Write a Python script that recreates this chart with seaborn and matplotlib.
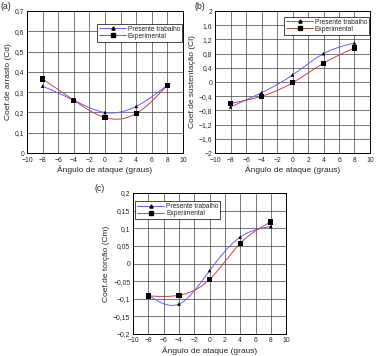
import numpy as np
import pandas as pd
import matplotlib
matplotlib.use("Agg")
import matplotlib.pyplot as plt
import seaborn as sns
from matplotlib.lines import Line2D
from matplotlib.ticker import FuncFormatter, MultipleLocator

# --- DATA ---
alpha = [-8, -4, 0, 4, 8]
cd_presente = [0.33, 0.26, 0.20, 0.23, 0.335]
cd_exp = [0.365, 0.26, 0.175, 0.195, 0.335]
cl_presente = [-0.70, -0.30, 0.20, 0.80, 1.10]
cl_exp = [-0.60, -0.40, -0.02, 0.53, 0.96]
cm_presente = [-0.090, -0.115, -0.020, 0.075, 0.105]
cm_exp = [-0.092, -0.090, -0.045, 0.057, 0.118]

xlabel = "Ângulo de ataque (graus)"
labels = ["Presente trabalho", "Experimental"]
c_pres = "#6a5cf0"
c_exp = "#b8484a"

sns.set_style("white")
plt.rcParams["font.family"] = ["Liberation Sans", "DejaVu Sans"]


def natural_spline(x, y, n=200):
    # smooth line through the measured points (drawing only)
    x = np.asarray(x, float)
    y = np.asarray(y, float)
    k = len(x)
    h = np.diff(x)
    A = np.zeros((k, k))
    r = np.zeros(k)
    A[0, 0] = A[-1, -1] = 1
    for i in range(1, k - 1):
        A[i, i - 1] = h[i - 1]
        A[i, i] = 2 * (h[i - 1] + h[i])
        A[i, i + 1] = h[i]
        r[i] = 6 * ((y[i + 1] - y[i]) / h[i] - (y[i] - y[i - 1]) / h[i - 1])
    M = np.linalg.solve(A, r)
    xs = np.linspace(x[0], x[-1], n)
    idx = np.clip(np.searchsorted(x, xs) - 1, 0, k - 2)
    x0, x1 = x[idx], x[idx + 1]
    hh = x1 - x0
    ys = (M[idx] * (x1 - xs) ** 3 / (6 * hh) + M[idx + 1] * (xs - x0) ** 3 / (6 * hh)
          + (y[idx] / hh - M[idx] * hh / 6) * (x1 - xs)
          + (y[idx + 1] / hh - M[idx + 1] * hh / 6) * (xs - x0))
    return xs, ys


def comma(v, pos):
    s = f"{v:.2f}".rstrip("0").rstrip(".")
    if s in ("-0", ""):
        s = "0"
    return s.replace(".", ",").replace("-", "\u2212")


def panel(ax, pres, exp, ylim, ystep, ylabel, tag, tag_x, legend_loc, anchor):
    xs, ys = natural_spline(alpha, pres)
    sns.lineplot(x=xs, y=ys, ax=ax, color=c_pres, lw=0.7)
    xs, ys = natural_spline(alpha, exp)
    sns.lineplot(x=xs, y=ys, ax=ax, color=c_exp, lw=0.7)
    sns.scatterplot(x=alpha, y=pres, ax=ax, marker="^", s=7, color="black",
                    edgecolor="none", zorder=5)
    sns.scatterplot(x=alpha, y=exp, ax=ax, marker="s", s=14, color="black",
                    edgecolor="none", zorder=5)
    ax.set_xlim(-10, 10)
    ax.set_ylim(*ylim)
    ax.xaxis.set_major_locator(MultipleLocator(2))
    ax.yaxis.set_major_locator(MultipleLocator(ystep))
    ax.xaxis.set_major_formatter(FuncFormatter(comma))
    ax.yaxis.set_major_formatter(FuncFormatter(comma))
    ax.grid(True, color="0.25", lw=0.5)
    ax.tick_params(labelsize=4.9, length=0)
    ax.tick_params(axis="x", pad=2.5)
    ax.tick_params(axis="y", pad=2.0)
    for s in ax.spines.values():
        s.set_color("black")
        s.set_linewidth(0.7)
    ax.set_xlabel(xlabel, fontsize=6, labelpad=1.5)
    ax.set_ylabel(ylabel, fontsize=6, labelpad=2)
    ax.text(tag_x, 1.03, tag, transform=ax.transAxes, ha="left", va="center",
            fontsize=6.3)
    handles = [
        Line2D([], [], color=c_pres, lw=0.7, marker="^", ms=2.3,
               mfc="black", mec="black"),
        Line2D([], [], color=c_exp, lw=0.7, marker="s", ms=2.8,
               mfc="black", mec="black"),
    ]
    leg = ax.legend(handles, labels, loc=legend_loc, fontsize=4.8,
                    frameon=True, fancybox=False, borderpad=0.3,
                    handlelength=4.0, handletextpad=0.3, labelspacing=0.0,
                    borderaxespad=0.0, bbox_to_anchor=anchor)
    leg.get_frame().set_edgecolor("black")
    leg.get_frame().set_linewidth(0.5)
    leg.get_frame().set_alpha(1)


fig = plt.figure(figsize=(3.76, 3.56), dpi=100)
ax_a = fig.add_axes([0.0718, 0.570, 0.415, 0.399])
ax_b = fig.add_axes([0.572, 0.570, 0.412, 0.399])
ax_c = fig.add_axes([0.354, 0.0618, 0.407, 0.396])

panel(ax_a, cd_presente, cd_exp, (0, 0.7), 0.1, "Coef.de arrasto (Cd)",
      "(a)", -0.17, "upper right", (0.995, 0.91))
panel(ax_b, cl_presente, cl_exp, (-2, 2), 0.4, "Coef.de sustentação (Cl)",
      "(b)", -0.13, "upper right", (0.995, 0.96))
panel(ax_c, cm_presente, cm_exp, (-0.2, 0.2), 0.05, "Coef.de torção (Cm)",
      "(c)", -0.25, "upper left", (0.015, 0.94))

fig.savefig("out.png", dpi=100)
